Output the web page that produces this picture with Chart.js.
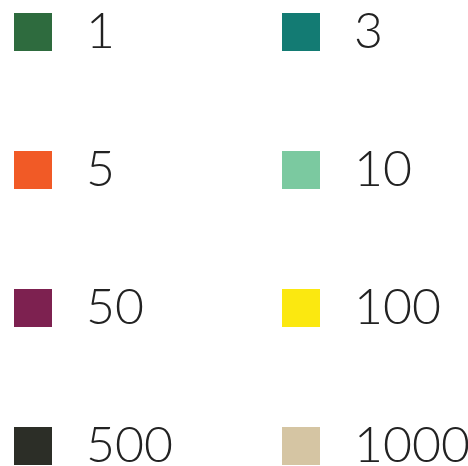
<!DOCTYPE html>
<html>
<head>
<meta charset="utf-8">
<script src="https://cdn.jsdelivr.net/npm/chart.js@4"></script>
<style>
  html, body { margin: 0; padding: 0; background: #fff; overflow: hidden; }
  #wrap { width: 468px; height: 466px; position: relative; }
</style>
</head>
<body>
<div id="wrap"><canvas id="myChart"></canvas></div>
<script>
// legend categories and their colours (read row by row, left to right)
const categories = ["1", "3", "5", "10", "50", "100", "500", "1000"];
const colors = [
  "#2e6b3e", "#137b73",
  "#f15a26", "#7bc9a0",
  "#7d2150", "#fbe810",
  "#2c2e27", "#d5c5a3",
];
const legendColumns = 2;

//--------------------------------------------------
// square swatch used as the legend point style
function swatch(color) {
  const c = document.createElement("canvas");
  c.width = 38;
  c.height = 38;
  const g = c.getContext("2d");
  g.fillStyle = color;
  g.fillRect(0, 0, 38, 38);
  return c;
}
const swatches = colors.map(swatch);
const rowsPerColumn = Math.ceil(categories.length / legendColumns);

const ctx = document.getElementById("myChart");
new Chart(ctx, {
  type: "bar",
  data: {
    labels: [],
    datasets: categories.map((label, i) => ({
      label: label,
      data: [],
      backgroundColor: colors[i],
    })),
  },
  options: {
    responsive: true,
    maintainAspectRatio: false,
    animation: false,
    layout: {
      // legend padding is applied around items too, pull it back off-canvas
      padding: { top: -93, left: -95, bottom: -174, right: 0 },
    },
    scales: {
      x: { display: false },
      y: { display: false },
    },
    plugins: {
      tooltip: { enabled: false },
      legend: {
        position: "left",
        align: "start",
        maxWidth: 1000,
        labels: {
          usePointStyle: true,
          pointStyleWidth: 56,
          padding: 100,
          color: "#222",
          font: { family: "Lato", size: 50, weight: 300, lineHeight: 0.76 },
          // column-major order so the legend fills two columns
          sort: (a, b) => {
            const rank = (i) => (i % legendColumns) * rowsPerColumn + Math.floor(i / legendColumns);
            return rank(a.datasetIndex) - rank(b.datasetIndex);
          },
          generateLabels: (chart) =>
            Chart.defaults.plugins.legend.labels.generateLabels(chart).map((item) => ({
              ...item,
              text: [item.text],
              pointStyle: swatches[item.datasetIndex],
            })),
        },
      },
    },
  },
});
</script>
</body>
</html>
